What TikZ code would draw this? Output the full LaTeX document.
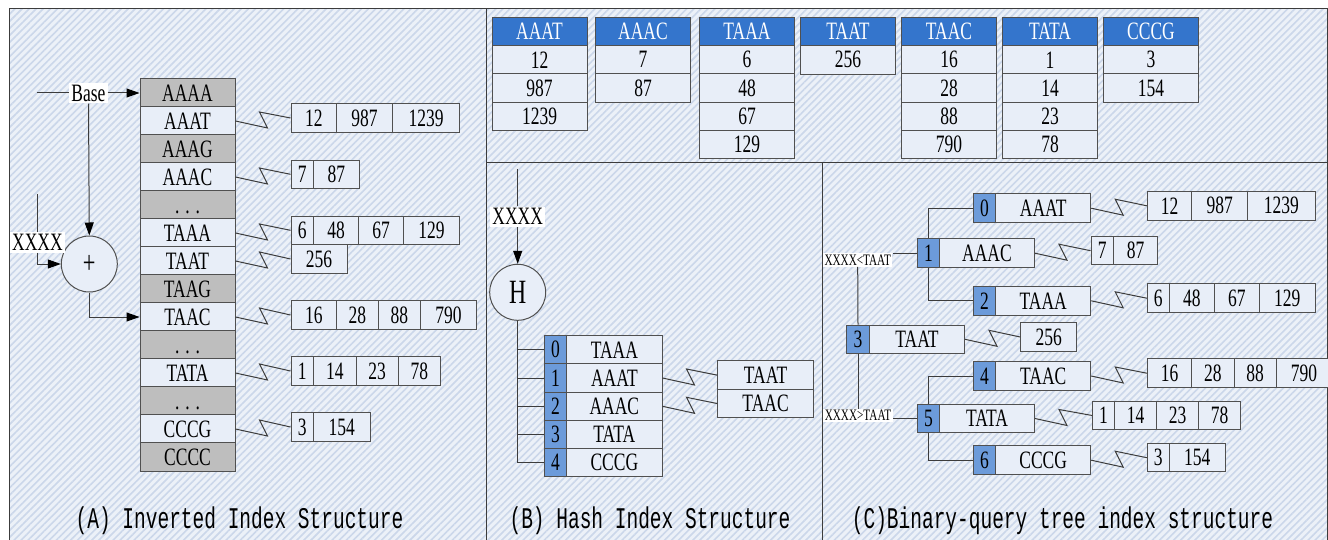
\documentclass[tikz,border=0pt]{standalone}
\usepackage{fontspec}
\setmainfont{Liberation Serif}
\newfontfamily\cellfont[FakeStretch=0.7]{Liberation Serif}
\newfontfamily\capfont[FakeStretch=0.65]{Liberation Mono}
\usetikzlibrary{arrows.meta,patterns.meta}

\definecolor{bgc}{RGB}{236,241,248}
\definecolor{stripec}{RGB}{203,215,234}
\definecolor{cellc}{RGB}{232,238,248}
\definecolor{grayc}{RGB}{190,190,190}
\definecolor{headc}{RGB}{52,117,204}
\definecolor{idxc}{RGB}{108,155,218}
\definecolor{edgec}{RGB}{80,80,80}
\definecolor{linec}{RGB}{60,60,60}

\begin{document}
\begin{tikzpicture}[
  x=1pt, y=-1pt,
  cell/.style={draw=edgec, fill=cellc, line width=1pt, inner sep=0pt, minimum height=28.5, minimum width=95, font=\cellfont\fontsize{25}{25}\selectfont},
  graycell/.style={cell, fill=grayc},
  head/.style={cell, fill=headc, text=white},
  idx/.style={cell, fill=idxc, minimum width=22.4},
  op/.style={circle, draw=edgec, fill=cellc, line width=1pt, inner sep=0pt, minimum size=56, font=\cellfont\fontsize{32}{32}\selectfont},
  tag/.style={fill=white, inner sep=2pt, font=\cellfont\fontsize{25}{25}\selectfont},
  smalltag/.style={fill=white, inner sep=1.5pt, font=\cellfont\fontsize{16}{16}\selectfont},
  caption/.style={font=\capfont\fontsize{30}{30}\selectfont},
  link/.style={draw=linec, line width=1pt},
  arr/.style={link, -{Triangle[length=13pt,width=9pt,fill=black,color=black]}},
  jump/.style={to path={-- ++(32,7) -- ++(-8,-16) -- (\tikztotarget)}}
]
  \useasboundingbox (0,0) rectangle (1328,540);

  % background and panel frames
  \fill[bgc] (9,9) rectangle (1327,545);
  \fill[pattern={Lines[angle=45,distance=5pt,line width=1.6pt]}, pattern color=stripec] (9,9) rectangle (1327,545);
  \draw[linec, line width=1pt] (9,545) -- (9,9) -- (1327,9) -- (1327,545);
  \draw[linec, line width=1pt] (486,9) -- (486,545);
  \draw[linec, line width=1pt] (486,163) -- (1327,163);
  \draw[linec, line width=1pt] (822.7,163) -- (822.7,545);

  % (A) inverted index
  \node[graycell] (colAAAA) at (187.5,93) {AAAA};
  \node[cell] (colAAAT) at (187.5,121) {AAAT};
  \node[graycell] (colAAAG) at (187.5,149) {AAAG};
  \node[cell] (colAAAC) at (187.5,177) {AAAC};
  \node[graycell] (colDotsA) at (187.5,205) {\vphantom{A}. . .};
  \node[cell] (colTAAA) at (187.5,233) {TAAA};
  \node[cell] (colTAAT) at (187.5,261) {TAAT};
  \node[graycell] (colTAAG) at (187.5,289) {TAAG};
  \node[cell] (colTAAC) at (187.5,317) {TAAC};
  \node[graycell] (colDotsB) at (187.5,345) {\vphantom{A}. . .};
  \node[cell] (colTATA) at (187.5,373) {TATA};
  \node[graycell] (colDotsC) at (187.5,401) {\vphantom{A}. . .};
  \node[cell] (colCCCG) at (187.5,429) {CCCG};
  \node[graycell] (colCCCC) at (187.5,457) {CCCC};

  \node[cell, minimum width=45.5] (aAAAT1) at (313.75,118) {12};
  \node[cell, minimum width=56] (aAAAT2) at (364.5,118) {987};
  \node[cell, minimum width=67] (aAAAT3) at (426,118) {1239};
  \node[cell, minimum width=22.5] (aAAAC1) at (302.25,174.3) {7};
  \node[cell, minimum width=45.5] (aAAAC2) at (336.25,174.3) {87};
  \node[cell, minimum width=22.5] (aTAAA1) at (302.25,230.3) {6};
  \node[cell, minimum width=45] (aTAAA2) at (336,230.3) {48};
  \node[cell, minimum width=45] (aTAAA3) at (381,230.3) {67};
  \node[cell, minimum width=56] (aTAAA4) at (431.5,230.3) {129};
  \node[cell, minimum width=56] (aTAAT1) at (319,259) {256};
  \node[cell, minimum width=45.5] (aTAAC1) at (313.75,315) {16};
  \node[cell, minimum width=41.5] (aTAAC2) at (357.25,315) {28};
  \node[cell, minimum width=42.5] (aTAAC3) at (399.25,315) {88};
  \node[cell, minimum width=56] (aTAAC4) at (448.5,315) {790};
  \node[cell, minimum width=22.5] (aTATA1) at (302.25,371) {1};
  \node[cell, minimum width=42.5] (aTATA2) at (334.75,371) {14};
  \node[cell, minimum width=42] (aTATA3) at (377,371) {23};
  \node[cell, minimum width=42.5] (aTATA4) at (419.25,371) {78};
  \node[cell, minimum width=22.5] (aCCCG1) at (302.25,427) {3};
  \node[cell, minimum width=56.5] (aCCCG2) at (341.75,427) {154};

  \node[op] (plus) at (89.3,264) {+};
  \node[tag] (base) at (88.5,93) {Base};
  \node[tag] (xxxxA) at (37.5,242.5) {XXXX};
  \coordinate (baseIn) at (37,93);
  \coordinate (xxxxAIn) at (37.5,194);

  \draw[link] (baseIn) -- (base.west);
  \draw[arr] (base.east) -- (colAAAA.west);
  \draw[arr] (base.south) -- (plus.north);
  \draw[link] (xxxxAIn) -- (xxxxA.north);
  \draw[arr] (xxxxA.south) |- (plus.west);
  \draw[arr] (plus.south) |- (colTAAC.west);

  \draw[link] (colAAAT.east) to[jump] (aAAAT1.west);
  \draw[link] (colAAAC.east) to[jump] (aAAAC1.west);
  \draw[link] (colTAAA.east) to[jump] (aTAAA1.west);
  \draw[link] (colTAAT.east) to[jump] (aTAAT1.west);
  \draw[link] (colTAAC.east) to[jump] (aTAAC1.west);
  \draw[link] (colTATA.east) to[jump] (aTATA1.west);
  \draw[link] (colCCCG.east) to[jump] (aCCCG1.west);

  % posting lists on top
  \node[head] (hAAAT) at (539.5,31.5) {AAAT};
  \node[cell] at (539.5,59.8) {12};
  \node[cell] at (539.5,88.1) {987};
  \node[cell] at (539.5,116.4) {1239};
  \node[head] (hAAAC) at (643,31.5) {AAAC};
  \node[cell] at (643,59.8) {7};
  \node[cell] at (643,88.1) {87};
  \node[head] (hTAAA) at (747,31.5) {TAAA};
  \node[cell] at (747,59.8) {6};
  \node[cell] at (747,88.1) {48};
  \node[cell] at (747,116.4) {67};
  \node[cell] at (747,144.7) {129};
  \node[head] (hTAAT) at (848,31.5) {TAAT};
  \node[cell] at (848,59.8) {256};
  \node[head] (hTAAC) at (949,31.5) {TAAC};
  \node[cell] at (949,59.8) {16};
  \node[cell] at (949,88.1) {28};
  \node[cell] at (949,116.4) {88};
  \node[cell] at (949,144.7) {790};
  \node[head] (hTATA) at (1050,31.5) {TATA};
  \node[cell] at (1050,59.8) {1};
  \node[cell] at (1050,88.1) {14};
  \node[cell] at (1050,116.4) {23};
  \node[cell] at (1050,144.7) {78};
  \node[head] (hCCCG) at (1151,31.5) {CCCG};
  \node[cell] at (1151,59.8) {3};
  \node[cell] at (1151,88.1) {154};

  % (B) hash index
  \node[tag] (xxxxB) at (517.7,216.7) {XXXX};
  \coordinate (xxxxBIn) at (517.7,169);
  \node[op, font=\cellfont\fontsize{34}{34}\selectfont] (hash) at (517.7,292.3) {H};

  \node[idx] (b0) at (555.5,349.8) {0};
  \node[cell, minimum width=95.3] (bTAAA) at (614.35,349.8) {TAAA};
  \node[idx] (b1) at (555.5,378) {1};
  \node[cell, minimum width=95.3] (bAAAT) at (614.35,378) {AAAT};
  \node[idx] (b2) at (555.5,406.3) {2};
  \node[cell, minimum width=95.3] (bAAAC) at (614.35,406.3) {AAAC};
  \node[idx] (b3) at (555.5,434.5) {3};
  \node[cell, minimum width=95.3] (bTATA) at (614.35,434.5) {TATA};
  \node[idx] (b4) at (555.5,462.7) {4};
  \node[cell, minimum width=95.3] (bCCCG) at (614.35,462.7) {CCCG};
  \node[cell, minimum width=95.3] (bTAAT) at (765.6,375.2) {TAAT};
  \node[cell, minimum width=95.3] (bTAAC) at (765.6,403.6) {TAAC};

  \draw[link] (xxxxBIn) -- (xxxxB.north);
  \draw[arr] (xxxxB.south) -- (hash.north);
  \draw[link] (hash.south) |- (b0.west);
  \draw[link] (hash.south) |- (b1.west);
  \draw[link] (hash.south) |- (b2.west);
  \draw[link] (hash.south) |- (b3.west);
  \draw[link] (hash.south) |- (b4.west);
  \draw[link] (bAAAT.east) to[jump] (bTAAT.west);
  \draw[link] (bAAAC.east) to[jump] (bTAAC.west);

  % (C) binary-query tree
  \node[idx] (c0) at (984.5,208.2) {0};
  \node[cell] (cAAAT) at (1043.2,208.2) {AAAT};
  \node[idx] (c1) at (928.5,253.2) {1};
  \node[cell] (cAAAC) at (987,253.2) {AAAC};
  \node[idx] (c2) at (984.5,300.8) {2};
  \node[cell] (cTAAA) at (1043.2,300.8) {TAAA};
  \node[idx] (c3) at (858,339.3) {3};
  \node[cell] (cTAAT) at (917,339.3) {TAAT};
  \node[idx] (c4) at (984.5,376) {4};
  \node[cell] (cTAAC) at (1043.2,376) {TAAC};
  \node[idx] (c5) at (928.5,418.5) {5};
  \node[cell] (cTATA) at (987,418.5) {TATA};
  \node[idx] (c6) at (984.5,460.2) {6};
  \node[cell] (cCCCG) at (1043.2,460.2) {CCCG};

  \node[smalltag] (less) at (857.7,260) {XXXX<TAAT};
  \node[smalltag] (more) at (858,415.5) {XXXX>TAAT};

  \draw[link] (less.south) -- (c3.north);
  \draw[link] (c3.south) -- (more.north);
  \draw[link] (c1.west) -- (c1.west -| less.east);
  \draw[link] (c5.west) -- (c5.west -| more.east);
  \draw[link] (c1.north) |- (c0.west);
  \draw[link] (c1.south) |- (c2.west);
  \draw[link] (c5.north) |- (c4.west);
  \draw[link] (c5.south) |- (c6.west);

  \node[cell, minimum width=44.4] (cAAAT1) at (1169.5,205.8) {12};
  \node[cell, minimum width=56] (cAAAT2) at (1219.7,205.8) {987};
  \node[cell, minimum width=67.3] (cAAAT3) at (1281.35,205.8) {1239};
  \node[cell, minimum width=22.3] (cAAAC1) at (1102.15,250.7) {7};
  \node[cell, minimum width=44.4] (cAAAC2) at (1135.5,250.7) {87};
  \node[cell, minimum width=22] (cTAAA1) at (1158.3,298.2) {6};
  \node[cell, minimum width=45] (cTAAA2) at (1191.8,298.2) {48};
  \node[cell, minimum width=45] (cTAAA3) at (1236.8,298.2) {67};
  \node[cell, minimum width=55.7] (cTAAA4) at (1287.15,298.2) {129};
  \node[cell, minimum width=56] (cTAAT1) at (1048.7,337) {256};
  \node[cell, minimum width=44.4] (cTAAC1) at (1169.5,373.2) {16};
  \node[cell, minimum width=42.3] (cTAAC2) at (1212.85,373.2) {28};
  \node[cell, minimum width=42] (cTAAC3) at (1255,373.2) {88};
  \node[cell, minimum width=56] (cTAAC4) at (1304,373.2) {790};
  \node[cell, minimum width=21.6] (cTATA1) at (1103.5,415.5) {1};
  \node[cell, minimum width=42.4] (cTATA2) at (1135.5,415.5) {14};
  \node[cell, minimum width=41.6] (cTATA3) at (1177.5,415.5) {23};
  \node[cell, minimum width=42.4] (cTATA4) at (1219.5,415.5) {78};
  \node[cell, minimum width=22] (cCCCG1) at (1158.3,457.7) {3};
  \node[cell, minimum width=55.7] (cCCCG2) at (1197.15,457.7) {154};

  \draw[link] (cAAAT.east) to[jump] (cAAAT1.west);
  \draw[link] (cAAAC.east) to[jump] (cAAAC1.west);
  \draw[link] (cTAAA.east) to[jump] (cTAAA1.west);
  \draw[link] (cTAAT.east) to[jump] (cTAAT1.west);
  \draw[link] (cTAAC.east) to[jump] (cTAAC1.west);
  \draw[link] (cTATA.east) to[jump] (cTATA1.west);
  \draw[link] (cCCCG.east) to[jump] (cCCCG1.west);

  % captions
  \node[caption] (capA) at (239.5,521) {(A) Inverted Index Structure};
  \node[caption] (capB) at (650,521) {(B) Hash Index Structure};
  \node[caption] (capC) at (1062.5,521) {(C)Binary-query tree index structure};
\end{tikzpicture}
\end{document}
